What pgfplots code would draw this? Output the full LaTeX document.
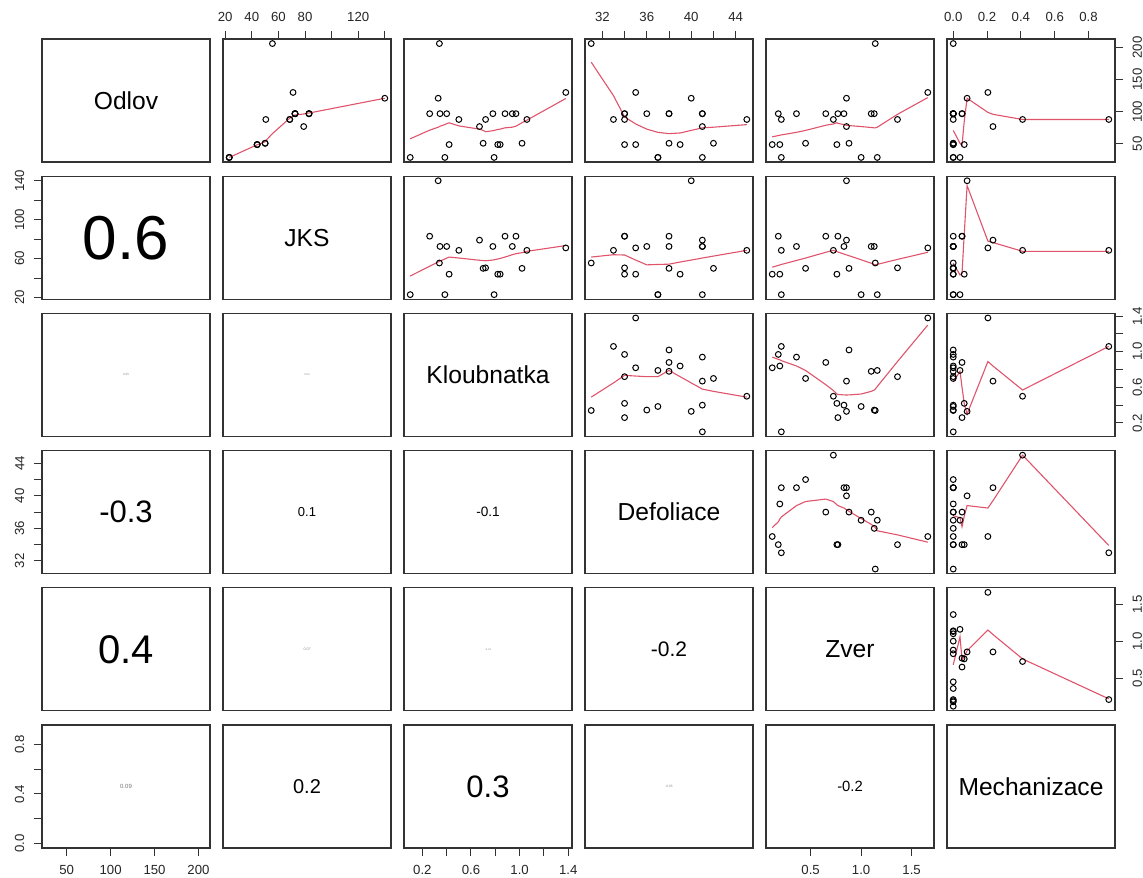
\documentclass[border=0pt]{standalone}
\usepackage{pgfplots}
\pgfplotsset{compat=1.18}
\usepackage{pgfplotstable}
\usepackage{fontspec}
\setmainfont{Liberation Sans}
\definecolor{lred}{HTML}{DF536B}
\definecolor{frm}{HTML}{333333}

\pgfplotstableread{
O J K D Z M
206 55.5 0.34 31 1.14 0
88 68.5 1.06 33 0.21 0.92
97 83 0.97 34 0.18 0
88 50.5 0.72 34 1.36 0
49 44 0.42 34 0.76 0.065
97 83 0.26 34 0.77 0.052
130 71 1.38 35 1.66 0.205
49 44 0.82 35 0.12 0
97 72.5 0.345 36 1.13 0
29 23 0.79 37 1.16 0.04
29 23 0.385 37 1.00 0
51 50 1.02 38 0.88 0
97 83 0.88 38 0.65 0.052
97 72.5 0.78 38 1.10 0
49 44 0.84 39 0.195 0
121 140 0.33 40 0.855 0.082
97 72.5 0.94 41 0.36 0
77 79 0.67 41 0.855 0.235
97 72.5 0.40 41 0.83 0
29 23 0.10 41 0.21 0
51 50 0.70 42 0.45 0
88 68.5 0.50 45 0.725 0.41
}\dat

\pgfplotsset{
  panel/.style={scale only axis, width=84pt, height=61.5pt, anchor=south west,
    axis line style={frm, line width=0.65pt},
    xtick=\empty, ytick=\empty,
    tick align=outside, major tick length=4pt,
    every tick/.style={frm, line width=0.5pt},
    tick label style={font=\fontsize{6.6}{7}\selectfont, inner sep=0pt, text=black!85},
    xticklabel shift=4.65pt, yticklabel shift=4.65pt},
  pts/.style={only marks, mark=o, mark size=1.45pt, mark options={line width=0.5pt, black}},
  sm/.style={lred, line width=0.55pt, no marks},
  xO/.style={xmin=21.92,xmax=213.08}, yO/.style={ymin=21.92,ymax=213.08},
  xJ/.style={xmin=18.32,xmax=144.68}, yJ/.style={ymin=18.32,ymax=144.68},
  xK/.style={xmin=0.0488,xmax=1.4312}, yK/.style={ymin=0.0488,ymax=1.4312},
  xD/.style={xmin=30.44,xmax=45.56}, yD/.style={ymin=30.44,ymax=45.56},
  xZ/.style={xmin=0.0584,xmax=1.7216}, yZ/.style={ymin=0.0584,ymax=1.7216},
  xM/.style={xmin=-0.0368,xmax=0.9568}, yM/.style={ymin=-0.0368,ymax=0.9568},
  topJ/.style={xtick={20,40,60,80,100,120,140}, xticklabels={20,40,60,80,,120,}, xtick pos=right, xticklabel pos=right},
  topD/.style={xtick={32,34,36,38,40,42,44}, xticklabels={32,,36,,40,,44}, xtick pos=right, xticklabel pos=right},
  topM/.style={xtick={0,0.2,0.4,0.6,0.8}, xticklabels={0.0,0.2,0.4,0.6,0.8}, xtick pos=right, xticklabel pos=right},
  botO/.style={xtick={50,100,150,200}, xticklabels={50,100,150,200}, xtick pos=left},
  botK/.style={xtick={0.2,0.4,0.6,0.8,1.0,1.2,1.4}, xticklabels={0.2,,0.6,,1.0,,1.4}, xtick pos=left},
  botZ/.style={xtick={0.5,1.0,1.5}, xticklabels={0.5,1.0,1.5}, xtick pos=left},
  leftJ/.style={ytick={20,40,60,80,100,120,140}, yticklabels={20,,60,,100,,140}, ytick pos=left, yticklabel style={rotate=90,anchor=south}},
  leftD/.style={ytick={32,34,36,38,40,42,44}, yticklabels={32,,36,,40,,44}, ytick pos=left, yticklabel style={rotate=90,anchor=south}},
  leftM/.style={ytick={0,0.2,0.4,0.6,0.8}, yticklabels={0.0,,0.4,,0.8}, ytick pos=left, yticklabel style={rotate=90,anchor=south}},
  rightO/.style={ytick={50,100,150,200}, yticklabels={50,100,150,200}, ytick pos=right, yticklabel pos=right, yticklabel style={rotate=90,anchor=north}},
  rightK/.style={ytick={0.2,0.4,0.6,0.8,1.0,1.2,1.4}, yticklabels={0.2,,0.6,,1.0,,1.4}, ytick pos=right, yticklabel pos=right, yticklabel style={rotate=90,anchor=north}},
  rightZ/.style={ytick={0.5,1.0,1.5}, yticklabels={0.5,1.0,1.5}, ytick pos=right, yticklabel pos=right, yticklabel style={rotate=90,anchor=north}},
}
\newcommand\lab[1]{\node at (rel axis cs:0.5,0.5) {\fontsize{12.3}{14}\selectfont #1};}
\newcommand\cor[3][black]{\node[text=#1] at (rel axis cs:0.5,0.5) {\fontsize{#2}{#2}\selectfont #3};}

\begin{document}
\begin{tikzpicture}
\path[use as bounding box] (0,0) rectangle (571.5pt,438.5pt);
% ---------------- row 1 (Odlov)
\begin{axis}[panel, at={(21pt,357.5pt)}, xO, yO]
\lab{Odlov}
\end{axis}
\begin{axis}[panel, at={(111.5pt,357.5pt)}, xJ, yO, topJ]
\addplot[pts] table[x=J,y=O]{\dat};
\addplot[sm] coordinates {(23,29) (44,48.7) (50,53.3) (50.5,55) (55.5,66) (68.5,90) (71,93) (72.5,95) (79,96.5) (83,98) (140,121)};
\end{axis}
\begin{axis}[panel, at={(202pt,357.5pt)}, xK, yO]
\addplot[pts] table[x=K,y=O]{\dat};
\addplot[sm] coordinates {(0.10,58) (0.26,71.4) (0.33,76) (0.34,77) (0.345,77.5) (0.385,80) (0.40,81.5) (0.42,82.8) (0.50,78) (0.67,73) (0.70,71) (0.72,69) (0.78,70.5) (0.79,71) (0.82,72.5) (0.84,73) (0.88,75) (0.94,76) (0.97,77.6) (1.02,83) (1.06,87) (1.38,120.6)};
\end{axis}
\begin{axis}[panel, at={(292.5pt,357.5pt)}, xD, yO, topD]
\addplot[pts] table[x=D,y=O]{\dat};
\addplot[sm] coordinates {(31,177) (33,125) (34,92) (35,81) (36,73) (37,68) (38,66) (39,67) (40,71) (41,75) (42,76) (45,80)};
\end{axis}
\begin{axis}[panel, at={(383pt,357.5pt)}, xZ, yO]
\addplot[pts] table[x=Z,y=O]{\dat};
\addplot[sm] coordinates {(0.12,61) (0.18,63) (0.195,63.5) (0.21,64) (0.36,68) (0.45,71) (0.65,79) (0.725,81) (0.76,83) (0.77,82) (0.83,80) (0.855,79) (0.88,78.5) (1.0,77) (1.10,75.5) (1.13,75) (1.14,75) (1.16,76) (1.36,96) (1.66,122)};
\end{axis}
\begin{axis}[panel, at={(473.5pt,357.5pt)}, xM, yO, topM, rightO]
\addplot[pts] table[x=M,y=O]{\dat};
\addplot[sm] coordinates {(0,71) (0.04,51) (0.052,48) (0.065,85) (0.082,121) (0.205,99) (0.235,96) (0.41,88) (0.92,88)};
\end{axis}
% ---------------- row 2 (JKS)
\begin{axis}[panel, at={(21pt,288.9pt)}, xO, yJ, leftJ]
\cor{31}{0.6}
\end{axis}
\begin{axis}[panel, at={(111.5pt,288.9pt)}, xJ, yJ]
\lab{JKS}
\end{axis}
\begin{axis}[panel, at={(202pt,288.9pt)}, xK, yJ]
\addplot[pts] table[x=K,y=J]{\dat};
\addplot[sm] coordinates {(0.10,42.1) (0.26,52.2) (0.33,56.5) (0.34,57.1) (0.345,57.5) (0.385,59.6) (0.40,60.5) (0.42,61.6) (0.50,60.6) (0.67,58.3) (0.70,58) (0.72,57.8) (0.78,58.5) (0.79,58.8) (0.82,59.6) (0.84,60.2) (0.88,61.6) (0.94,64) (0.97,65.1) (1.02,66.1) (1.06,67.5) (1.38,73.4)};
\end{axis}
\begin{axis}[panel, at={(292.5pt,288.9pt)}, xD, yJ]
\addplot[pts] table[x=D,y=J]{\dat};
\addplot[sm] coordinates {(31,61.6) (33,64) (34,63.7) (35,58.5) (36,53.6) (37,54) (38,54.3) (39,56.5) (40,58.5) (41,60.6) (42,62.6) (45,68.5)};
\end{axis}
\begin{axis}[panel, at={(383pt,288.9pt)}, xZ, yJ]
\addplot[pts] table[x=Z,y=J]{\dat};
\addplot[sm] coordinates {(0.12,51.2) (0.18,53) (0.195,53.5) (0.21,54) (0.36,58.1) (0.45,60.6) (0.65,66.5) (0.725,68.5) (0.76,67.2) (0.77,66.8) (0.83,64.7) (0.855,63.8) (0.88,63) (1.0,58.8) (1.10,55.3) (1.13,54) (1.14,53.6) (1.16,54.1) (1.36,59.2) (1.66,66.5)};
\end{axis}
\begin{axis}[panel, at={(473.5pt,288.9pt)}, xM, yJ]
\addplot[pts] table[x=M,y=J]{\dat};
\addplot[sm] coordinates {(0,55.3) (0.04,43.2) (0.052,45) (0.065,85) (0.082,135) (0.205,78) (0.235,76.5) (0.41,67.5) (0.92,67.5)};
\end{axis}
% ---------------- row 3 (Kloubnatka)
\begin{axis}[panel, at={(21pt,220.3pt)}, xO, yK]
\cor[black!45]{1.5}{0.05}
\end{axis}
\begin{axis}[panel, at={(111.5pt,220.3pt)}, xJ, yK]
\cor[black!45]{1.4}{0.04}
\end{axis}
\begin{axis}[panel, at={(202pt,220.3pt)}, xK, yK]
\lab{Kloubnatka}
\end{axis}
\begin{axis}[panel, at={(292.5pt,220.3pt)}, xD, yK]
\addplot[pts] table[x=D,y=K]{\dat};
\addplot[sm] coordinates {(31,0.49) (33,0.65) (34,0.735) (35,0.727) (36,0.72) (37,0.72) (38,0.79) (39,0.72) (40,0.65) (41,0.58) (42,0.555) (45,0.49)};
\end{axis}
\begin{axis}[panel, at={(383pt,220.3pt)}, xZ, yK]
\addplot[pts] table[x=Z,y=K]{\dat};
\addplot[sm] coordinates {(0.12,0.94) (0.18,0.915) (0.195,0.91) (0.21,0.90) (0.36,0.84) (0.45,0.79) (0.65,0.63) (0.725,0.565) (0.76,0.525) (0.77,0.52) (0.83,0.515) (0.855,0.514) (0.88,0.515) (1.0,0.525) (1.10,0.555) (1.13,0.57) (1.14,0.58) (1.16,0.61) (1.36,0.89) (1.66,1.30)};
\end{axis}
\begin{axis}[panel, at={(473.5pt,220.3pt)}, xM, yK, rightK]
\addplot[pts] table[x=M,y=K]{\dat};
\addplot[sm] coordinates {(0,0.66) (0.04,0.78) (0.052,0.6) (0.065,0.42) (0.082,0.30) (0.205,0.89) (0.235,0.84) (0.41,0.57) (0.92,1.06)};
\end{axis}
% ---------------- row 4 (Defoliace)
\begin{axis}[panel, at={(21pt,151.7pt)}, xO, yD, leftD]
\cor{15.5}{-0.3}
\end{axis}
\begin{axis}[panel, at={(111.5pt,151.7pt)}, xJ, yD]
\cor{6.5}{0.1}
\end{axis}
\begin{axis}[panel, at={(202pt,151.7pt)}, xK, yD]
\cor{6.8}{-0.1}
\end{axis}
\begin{axis}[panel, at={(292.5pt,151.7pt)}, xD, yD]
\lab{Defoliace}
\end{axis}
\begin{axis}[panel, at={(383pt,151.7pt)}, xZ, yD]
\addplot[pts] table[x=Z,y=D]{\dat};
\addplot[sm] coordinates {(0.12,36.1) (0.18,36.8) (0.195,37.15) (0.21,37.4) (0.36,38.8) (0.45,39.3) (0.65,39.6) (0.725,39.3) (0.76,38.9) (0.77,38.8) (0.83,38.5) (0.855,38.3) (0.88,38.1) (1.0,37.2) (1.10,36.5) (1.13,36.2) (1.14,36.1) (1.16,35.7) (1.36,35.2) (1.66,34.3)};
\end{axis}
\begin{axis}[panel, at={(473.5pt,151.7pt)}, xM, yD]
\addplot[pts] table[x=M,y=D]{\dat};
\addplot[sm] coordinates {(0,37.56) (0.04,37.3) (0.052,36.2) (0.065,37.5) (0.082,38.8) (0.205,38.5) (0.235,39.4) (0.41,45) (0.92,33.9)};
\end{axis}
% ---------------- row 5 (Zver)
\begin{axis}[panel, at={(21pt,83.1pt)}, xO, yZ]
\cor{20}{0.4}
\end{axis}
\begin{axis}[panel, at={(111.5pt,83.1pt)}, xJ, yZ]
\cor[black!45]{1.8}{0.07}
\end{axis}
\begin{axis}[panel, at={(202pt,83.1pt)}, xK, yZ]
\cor[black!45]{1.3}{-0.04}
\end{axis}
\begin{axis}[panel, at={(292.5pt,83.1pt)}, xD, yZ]
\cor{10.5}{-0.2}
\end{axis}
\begin{axis}[panel, at={(383pt,83.1pt)}, xZ, yZ]
\lab{Zver}
\end{axis}
\begin{axis}[panel, at={(473.5pt,83.1pt)}, xM, yZ, rightZ]
\addplot[pts] table[x=M,y=Z]{\dat};
\addplot[sm] coordinates {(0,0.68) (0.04,1.06) (0.052,0.75) (0.065,0.79) (0.082,0.87) (0.205,1.15) (0.235,1.09) (0.41,0.76) (0.92,0.22)};
\end{axis}
% ---------------- row 6 (Mechanizace)
\begin{axis}[panel, at={(21pt,14.5pt)}, xO, yM, leftM, botO]
\cor[black!55]{3}{0.09}
\end{axis}
\begin{axis}[panel, at={(111.5pt,14.5pt)}, xJ, yM]
\cor{10}{0.2}
\end{axis}
\begin{axis}[panel, at={(202pt,14.5pt)}, xK, yM, botK]
\cor{15.5}{0.3}
\end{axis}
\begin{axis}[panel, at={(292.5pt,14.5pt)}, xD, yM]
\cor[black!45]{1.6}{-0.05}
\end{axis}
\begin{axis}[panel, at={(383pt,14.5pt)}, xZ, yM, botZ]
\cor{7.4}{-0.2}
\end{axis}
\begin{axis}[panel, at={(473.5pt,14.5pt)}, xM, yM]
\lab{Mechanizace}
\end{axis}
\end{tikzpicture}
\end{document}
